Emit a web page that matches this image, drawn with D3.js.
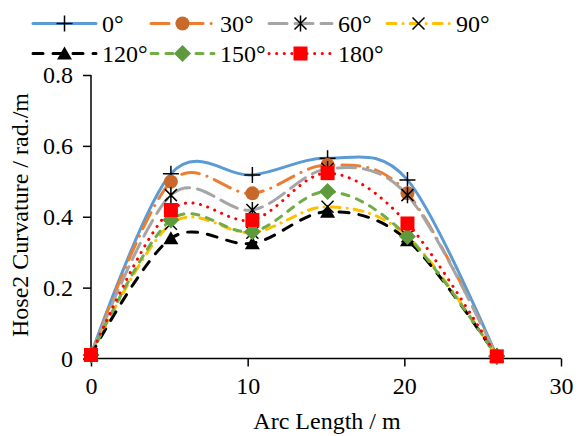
<!DOCTYPE html>
<html>
<head>
<meta charset="utf-8">
<script src="https://cdn.jsdelivr.net/npm/d3@7"></script>
<style>
  body { margin: 0; background: #fff; }
  svg { display: block; }
</style>
</head>
<body>
<div id="chart"></div>
<script>
// arc length positions of the sampled points
const arcLength = [0, 5.1, 10.3, 15.1, 20.2, 25.9];

const series = [
  { name: "0°",   values: [0.01, 0.521, 0.518, 0.565, 0.504, 0.006] },
  { name: "30°",  values: [0.01, 0.499, 0.466, 0.546, 0.466, 0.006] },
  { name: "60°",  values: [0.01, 0.461, 0.419, 0.535, 0.461, 0.006] },
  { name: "90°",  values: [0.01, 0.380, 0.355, 0.428, 0.345, 0.006] },
  { name: "120°", values: [0.01, 0.339, 0.325, 0.414, 0.334, 0.006] },
  { name: "150°", values: [0.01, 0.391, 0.358, 0.471, 0.344, 0.006] },
  { name: "180°", values: [0.01, 0.419, 0.391, 0.523, 0.381, 0.006] }
];

const xTicks = [0, 10, 20, 30];
const yTicks = [0, 0.2, 0.4, 0.6, 0.8];

// look of each series: line colour, dash, marker
const styles = {
  "0°":   { color: "#5b9bd5", dash: null,            marker: "plus",     mfill: "#000" },
  "30°":  { color: "#ed7d31", dash: "18,8,0.1,8",    marker: "circle",   mfill: "#c8682a" },
  "60°":  { color: "#a5a5a5", dash: "18,8",          marker: "star",     mfill: "#000" },
  "90°":  { color: "#ffc000", dash: "9,7,0.1,7",     marker: "cross",    mfill: "#000" },
  "120°": { color: "#000000", dash: "10,10",         marker: "triangle", mfill: "#000" },
  "150°": { color: "#70ad47", dash: "7,8",           marker: "diamond",  mfill: "#5e9a3c" },
  "180°": { color: "#ff0000", dash: "0.1,7.5",       marker: "square",   mfill: "#ff0000" }
};

const width = 581, height = 436;
const font = "Liberation Serif";
const fontSize = 24;

const x = d3.scaleLinear().domain([0, 30]).range([91, 561]);
const y = d3.scaleLinear().domain([0, 0.8]).range([358.5, 75]);

const svg = d3.select("#chart").append("svg")
    .attr("width", width)
    .attr("height", height);

// axes
const xAxis = svg.append("g")
    .attr("transform", "translate(0," + y(0) + ")")
    .call(d3.axisBottom(x).tickValues(xTicks).tickSize(8).tickPadding(10).tickFormat(d3.format("d")));

const yAxis = svg.append("g")
    .attr("transform", "translate(" + x(0) + ",0)")
    .call(d3.axisLeft(y).tickValues(yTicks).tickSize(8).tickPadding(10)
      .tickFormat(function(d) { return d === 0 ? "0" : d.toFixed(1); }));

[xAxis, yAxis].forEach(function(a) {
  a.attr("font-family", font).attr("font-size", fontSize);
  a.select(".domain").attr("stroke", "#000").attr("stroke-width", 1.5);
  a.selectAll(".tick line").attr("stroke", "#000").attr("stroke-width", 1.5);
  a.selectAll(".tick text")
      .attr("fill", "#000")
      .attr("font-family", font)
      .attr("font-size", fontSize);
});
// plain axis lines, no end ticks
xAxis.select(".domain").attr("d", "M" + x(0) + ",0H" + x(30));
yAxis.select(".domain").attr("d", "M0," + y(0) + "V" + y(0.8));

svg.append("text")
    .attr("x", 327)
    .attr("y", 429)
    .attr("text-anchor", "middle")
    .attr("font-family", font)
    .attr("font-size", fontSize)
    .text("Arc Length / m");

svg.append("text")
    .attr("transform", "translate(28,215) rotate(-90)")
    .attr("text-anchor", "middle")
    .attr("font-family", font)
    .attr("font-size", fontSize)
    .text("Hose2 Curvature / rad./m");

// marker drawing
function drawMarker(g, type, fill, cx, cy) {
  const m = g.append("g").attr("transform", "translate(" + cx + "," + cy + ")");
  if (type === "plus") {
    m.append("path").attr("d", "M-8,0H8M0,-8V8").attr("stroke", "#000").attr("stroke-width", 1.5);
  } else if (type === "cross") {
    m.append("path").attr("d", "M-6,-6L6,6M-6,6L6,-6").attr("stroke", "#000").attr("stroke-width", 1.5);
  } else if (type === "star") {
    m.append("path").attr("d", "M-6,-6L6,6M-6,6L6,-6M0,-8V8").attr("stroke", "#000").attr("stroke-width", 1.5);
  } else if (type === "circle") {
    m.append("circle").attr("r", 7).attr("fill", fill);
  } else if (type === "triangle") {
    m.append("path").attr("d", "M0,-7L7.5,6L-7.5,6Z").attr("fill", fill);
  } else if (type === "diamond") {
    m.append("path").attr("d", "M0,-8.5L8.5,0L0,8.5L-8.5,0Z").attr("fill", fill);
  } else if (type === "square") {
    m.append("rect").attr("x", -7).attr("y", -7).attr("width", 14).attr("height", 14).attr("fill", fill);
  }
}

const line = d3.line()
    .x(function(d, i) { return x(arcLength[i]); })
    .y(function(d) { return y(d); })
    .curve(d3.curveCardinal.tension(0));

const plot = svg.append("g");

series.forEach(function(s) {
  const st = styles[s.name];
  plot.append("path")
      .attr("d", line(s.values))
      .attr("fill", "none")
      .attr("stroke", st.color)
      .attr("stroke-width", 3)
      .attr("stroke-linecap", "round")
      .attr("stroke-dasharray", st.dash);
  s.values.forEach(function(v, i) {
    drawMarker(plot, st.marker, st.mfill, x(arcLength[i]), y(v));
  });
});

// legend
const legendCols = [33, 151, 269, 387];
const legendRows = [23.5, 53.5];
const legend = svg.append("g");
series.forEach(function(s, i) {
  const st = styles[s.name];
  const lx = legendCols[i % 4], ly = legendRows[Math.floor(i / 4)];
  legend.append("path")
      .attr("d", "M" + lx + "," + ly + "H" + (lx + 63))
      .attr("stroke", st.color)
      .attr("stroke-width", 3)
      .attr("stroke-linecap", "round")
      .attr("stroke-dasharray", st.dash);
  drawMarker(legend, st.marker, st.mfill, lx + 31.5, ly);
  legend.append("text")
      .attr("x", lx + 69)
      .attr("y", ly)
      .attr("dy", "0.35em")
      .attr("font-family", font)
      .attr("font-size", fontSize)
      .text(s.name);
});
</script>
</body>
</html>
